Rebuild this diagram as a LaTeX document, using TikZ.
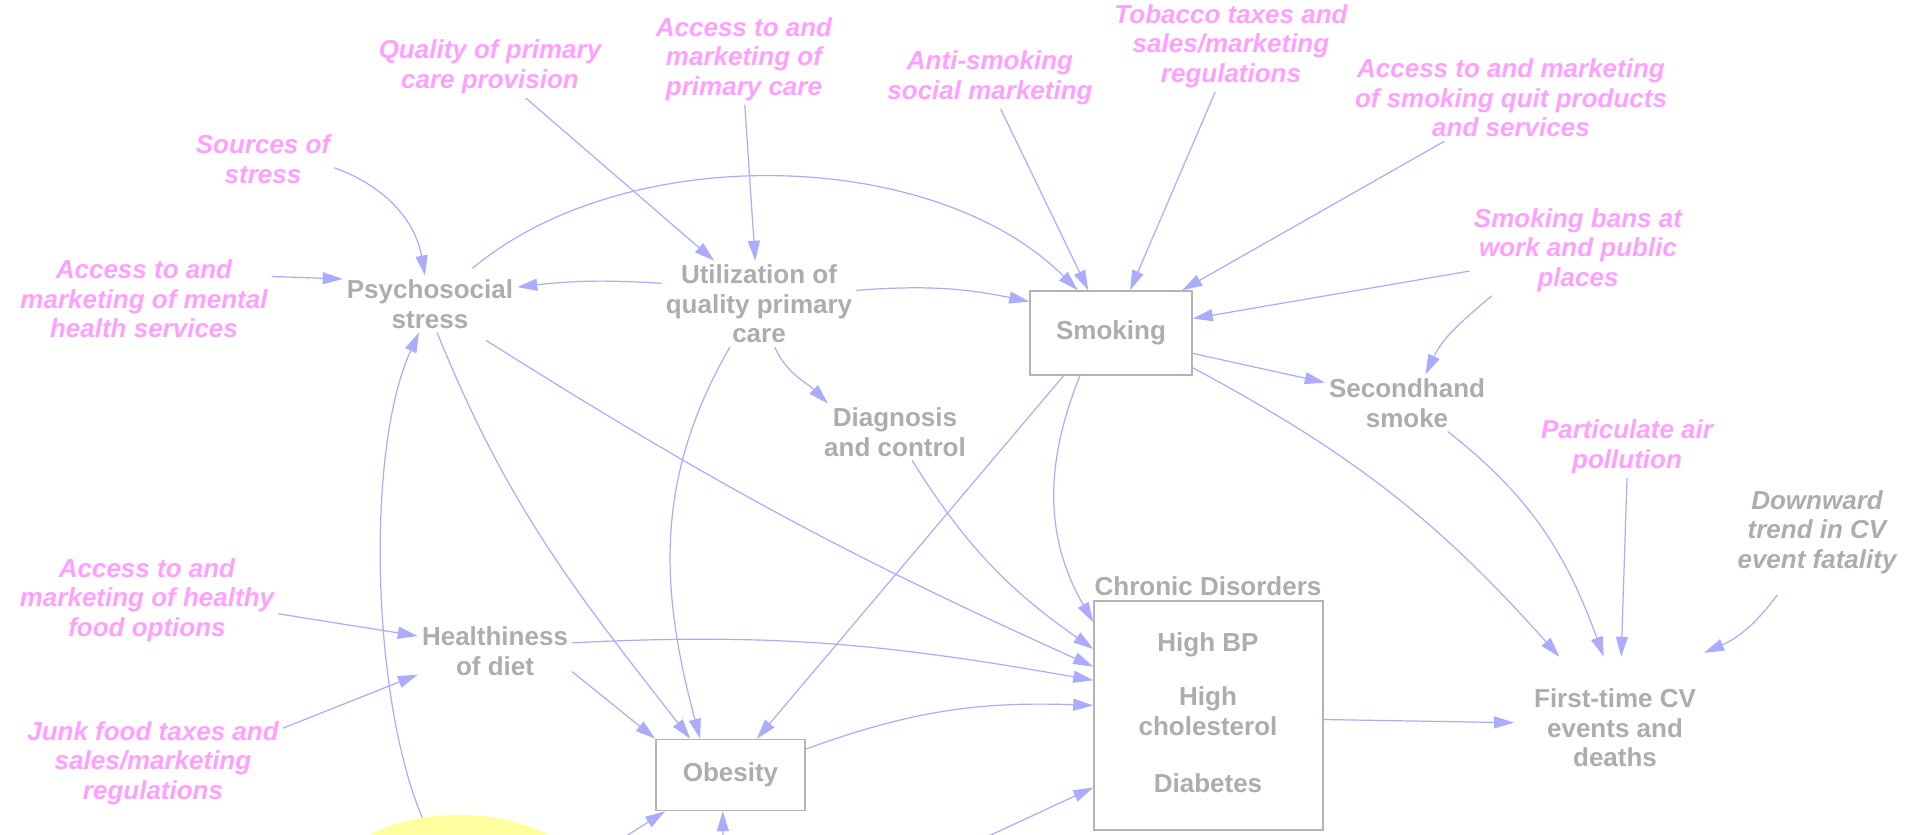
\documentclass[tikz,border=0pt]{standalone}
\usepackage{fontspec}
\setmainfont{Liberation Sans}
\usetikzlibrary{arrows.meta,shapes.geometric}
\definecolor{vargray}{RGB}{173,173,173}
\definecolor{boxgray}{RGB}{180,180,180}
\definecolor{exopink}{RGB}{255,160,255}
\definecolor{linkblue}{RGB}{172,172,255}
\definecolor{sunyellow}{RGB}{255,255,160}
\begin{document}
\begin{tikzpicture}[x=1pt,y=-1pt,
  every node/.style={align=center, inner sep=4pt},
  var/.style={text=vargray, font=\fontsize{26}{29.5}\selectfont\bfseries},
  exo/.style={text=exopink, font=\fontsize{26}{29.5}\selectfont\bfseries\itshape},
  trend/.style={text=vargray, font=\fontsize{26}{29.5}\selectfont\bfseries\itshape},
  stock/.style={draw=boxgray, line width=1.5pt, text=vargray,
    font=\fontsize{26}{29.5}\selectfont\bfseries},
  link/.style={draw=linkblue, line width=1.2pt,
    -{Triangle[length=20pt,width=12pt,fill=linkblue]}}
]
\fill[white] (0,0) rectangle (1915,835);
\useasboundingbox (0,0) rectangle (1915,835);

% bubble at the lower edge
\node[ellipse, fill=sunyellow, minimum width=230pt, minimum height=110pt, inner sep=0pt] (yel) at (459,870) {};

% exogenous drivers
\node[exo] (qual)  at (490,67)   {Quality of primary\\care provision};
\node[exo] (accpc) at (744,59)   {Access to and\\marketing of\\primary care};
\node[exo] (anti)  at (990,78)   {Anti-smoking\\social marketing};
\node[exo] (tob)   at (1231,46)  {Tobacco taxes and\\sales/marketing\\regulations};
\node[exo] (quit)  at (1511,98)  {Access to and marketing\\of smoking quit products\\and services};
\node[exo] (src)   at (263,159)  {Sources of\\stress};
\node[exo] (ment)  at (144,299)  {Access to and\\marketing of mental\\health services};
\node[exo] (bans)  at (1578,250) {Smoking bans at\\work and public\\places};
\node[exo] (part)  at (1627,447) {Particulate air\\pollution};
\node[exo] (food)  at (147,600)  {Access to and\\marketing of healthy\\food options};
\node[exo] (junk)  at (153,763)  {Junk food taxes and\\sales/marketing\\regulations};
\node[trend] (down) at (1817,532) {Downward\\trend in CV\\event fatality};

% model variables
\node[var] (psy)  at (430,304) {Psychosocial\\stress};
\node[var] (util) at (759,304) {Utilization of\\quality primary\\care};
\node[stock, minimum width=162pt, minimum height=84pt] (smk) at (1111,333) {Smoking};
\node[var] (sec)  at (1407,403) {Secondhand\\smoke};
\node[var] (diag) at (895,432) {Diagnosis\\and control};
\node[var] (diet) at (495,651) {Healthiness\\of diet};
\node[stock, minimum width=149pt, minimum height=71pt] (obes) at (730.5,775) {Obesity};
\node[var, inner xsep=20pt, inner ysep=32pt] (cv) at (1615,728) {First-time CV\\events and\\deaths};

% chronic disorders stock
\node[stock, minimum width=229pt, minimum height=229pt] (chron) at (1208.5,715.5) {};
\node[var] (chlabel) at (1208,586) {Chronic Disorders};
\node[var] (hbp)  at (1208,645) {High BP};
\node[var] (chol) at (1208,711) {High\\cholesterol};
\node[var] (diab) at (1208,783) {Diabetes};

% free ends below the lower edge
\coordinate (b1) at (620,840);
\coordinate (b2) at (723,850);
\coordinate (b3) at (980,840);

% causal links
\draw[link] (qual.-41.5) -- (util.136);
\draw[link] (accpc.-89) -- (util.95);
\draw[link] (anti.-71) -- (smk.118);
\draw[link] (tob.-109) -- (smk.66);
\draw[link] (quit.-147) -- (smk.31);
\draw[link] (bans.-169) -- (smk.10);
\draw[link] (bans.-152) to[out=-140,in=65] (sec.57);
\draw[link] (smk.-14) -- (sec.166);
\draw[link] (smk.-23) to[bend left=10] (cv.128);
\draw[link] (sec.-35) to[out=-38,in=110] (cv.99);
\draw[link] (part.-90) -- (cv.85);
\draw[link] ([shift={(-11,17)}]down.-122) to[bend left=15] ([shift={(-12,-4)}]cv.north east);
\draw[link] (chron.-2) -- (cv.177);
\draw[link] (src.-7) to[out=-20,in=100] (psy.100);
\draw[link] (ment.10) -- (psy.164);
\draw[link] (util.168) to[bend right=5] (psy.11);
\draw[link] ([shift={(-45,-7)}]psy.north east) to[out=40,in=135,looseness=0.85] (smk.128);
\draw[link] (util.8) to[bend left=8] (smk.159);
\draw[link] (util.-70) to[out=-65,in=135] (diag.157);
\draw[link] (util.-124) to[out=-120,in=105] (obes.130);
\draw[link] (psy.-76) to[out=-68,in=128] (obes.138);
\draw[link] ([shift={(-31,8)}]psy.south east) to[bend right=4] (chron.157);
\draw[link] (diag.-59) to[out=-58,in=145] (chron.150);
\draw[link] (smk.-138) -- (obes.54);
\draw[link] (smk.-126) to[out=-112,in=120] (chron.141);
\draw[link] (diet.6) to[out=3,in=170] (chron.163);
\draw[link] (diet.-15) -- (obes.north west);
\draw[link] (food.-6) -- (diet.169);
\draw[link] (junk.15) -- (diet.-163);
\draw[link] (obes.19) to[out=20,in=178] (chron.175);
\draw[link] (yel.125) .. controls (372,700) and (365,450) .. (psy.-111);
\draw[link] (b1) -- (obes.-151.6);
\draw[link] (b2) -- (obes.-102);
\draw[link] (b3) -- (chron.-148);
\end{tikzpicture}
\end{document}
